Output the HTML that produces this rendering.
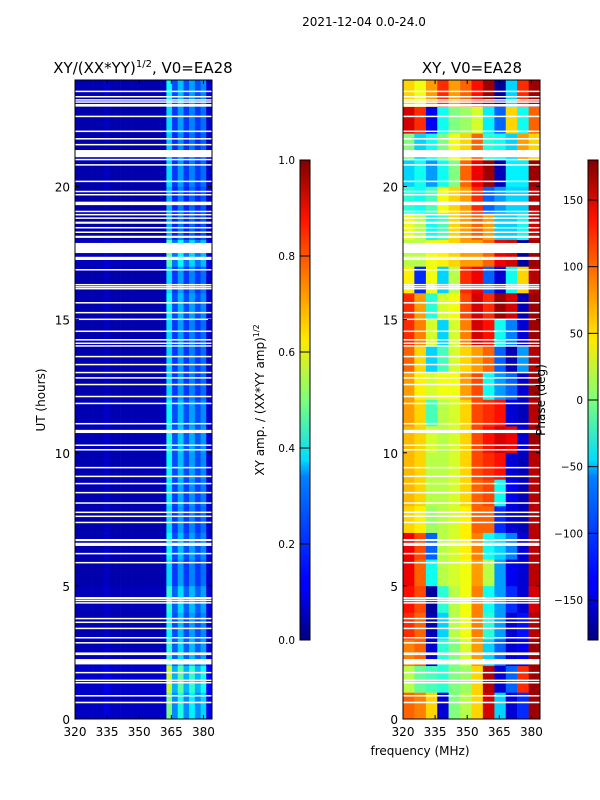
<!DOCTYPE html>
<html><head><meta charset="utf-8">
<style>
html,body{margin:0;padding:0;background:#fff;}
svg{display:block;font-family:"DejaVu Sans","Liberation Sans",sans-serif;}
</style></head>
<body>
<svg id="fig" width="600" height="800" viewBox="0 0 600 800" xmlns="http://www.w3.org/2000/svg">
<defs>
<linearGradient id="jet" x1="0" y1="1" x2="0" y2="0">
<stop offset="0" stop-color="#00007f"/><stop offset="0.11" stop-color="#0000ff"/>
<stop offset="0.125" stop-color="#0000ff"/><stop offset="0.34" stop-color="#0080ff"/>
<stop offset="0.375" stop-color="#00dcfe"/><stop offset="0.5" stop-color="#7dff7a"/>
<stop offset="0.625" stop-color="#ffea00"/><stop offset="0.75" stop-color="#ff8000"/>
<stop offset="0.875" stop-color="#ff1300"/><stop offset="1" stop-color="#7f0000"/>
</linearGradient>
</defs>
<text x="364" y="26" font-size="12" text-anchor="middle">2021-12-04 0.0-24.0</text>
<text x="143" y="73" font-size="15" text-anchor="middle">XY/(XX*YY)<tspan font-size="10" dy="-6">1/2</tspan><tspan dy="6">, V0=EA28</tspan></text>
<text x="472" y="73" font-size="15" text-anchor="middle">XY, V0=EA28</text>
<g id="leftPlot"></g>
<g id="rightPlot"></g>
<g id="axes"></g>
<text transform="translate(45,400) rotate(-90)" font-size="12" text-anchor="middle">UT (hours)</text>
<text x="420" y="755" font-size="12" text-anchor="middle">frequency (MHz)</text>
<text transform="translate(264,400) rotate(-90)" font-size="12" text-anchor="middle">XY amp. / (XX*YY amp)<tspan font-size="8" dy="-5">1/2</tspan></text>
<text transform="translate(545,400) rotate(-90)" font-size="12" text-anchor="middle">Phase (deg)</text>
<rect x="300" y="160" width="10" height="480" fill="url(#jet)" stroke="#000" stroke-width="1"/>
<rect x="588" y="160" width="10" height="480" fill="url(#jet)" stroke="#000" stroke-width="1"/>
<g id="cbticks"></g>
</svg>
<script>
// ---- data ----
const freqEdges = [320,322.7,325.3,328,330.7,333.3,336,338.7,341.3,344,346.7,349.3,352,354.7,357.3,360,362.7,365.3,368,370.7,373.3,376,378.7,381.3,384];
const ampChannel = [0.05,0.05,0.05,0.05,0.05,0.07,0.05,0.05,0.05,0.05,0.05,0.05,0.05,0.05,0.05,0.06,0.38,0.2,0.31,0.2,0.28,0.2,0.26,0.08];
const ampHourScale = [1.3,1.5,1.1,1.0,1.1,0.9,1.0,0.9,0.95,1.0,1.05,1.0,0.9,0.9,0.9,1.0,0.9,1.2,0.8,0.8,0.9,0.85,0.9,1.0];
const phaseFreqEdges = [320,325.3,330.7,336,341.3,346.7,352,357.3,362.7,368,373.3,378.7,384];
const phaseHours = [
[100,90,60,-150,0,20,60,150,-60,-150,-120,170],
[20,-10,-20,-30,0,10,60,160,-150,-100,120,170],
[90,100,-150,-30,0,30,80,-60,-100,-150,-140,170],
[120,100,-160,-60,20,40,90,-30,-80,-150,-130,160],
[130,110,-170,-30,20,40,90,-40,-80,-120,-150,150],
[140,100,-40,20,30,40,80,20,-80,-140,-150,160],
[140,110,-100,20,30,50,90,-40,-60,-90,-150,160],
[60,50,10,20,30,50,100,100,-120,-150,-160,160],
[70,60,20,20,30,60,100,110,-40,-140,-160,160],
[70,60,20,20,30,60,110,120,130,-150,-160,160],
[70,60,30,20,30,60,110,130,150,140,-150,170],
[80,60,-20,20,30,60,110,120,130,-150,-160,160],
[80,50,30,40,40,80,110,-40,-80,-100,-150,170],
[100,60,-60,-20,30,60,80,100,-100,-160,-80,160],
[120,90,30,-60,30,90,150,130,-40,-90,-150,170],
[120,80,-30,30,40,110,150,120,170,150,-160,170],
[50,-120,40,-60,20,120,140,-100,-150,-40,60,160],
[20,20,40,50,60,80,80,100,140,150,-170,170],
[40,20,-40,-20,60,80,100,80,-60,-60,-40,150],
[-30,-40,-20,40,60,80,120,-100,-80,-60,-60,160],
[-60,-40,-80,-40,0,100,140,170,-160,-50,-50,170],
[0,-60,-40,0,40,60,100,-30,-40,-60,80,60],
[150,120,-140,-40,0,10,30,-50,-100,60,-40,100],
[60,40,80,120,80,100,130,170,-170,-60,120,170]];
const flagged = [[0.59,0.65],[0.86,0.9],[1.35,1.39],[1.44,1.48],[1.73,1.77],[2.05,2.25],[2.4,2.5],[2.85,2.89],[3.04,3.08],[3.39,3.43],[3.62,3.66],[3.75,3.8],[4.35,4.39],[4.44,4.48],[4.5,4.58],[5.86,5.9],[6.2,6.24],[6.5,6.62],[6.68,6.76],[7.37,7.41],[7.6,7.64],[7.75,7.79],[8.1,8.14],[8.49,8.53],[8.83,8.87],[9.1,9.14],[9.43,9.47],[10.1,10.14],[10.27,10.31],[10.74,10.86],[11.08,11.12],[11.83,11.88],[12.1,12.14],[12.55,12.59],[12.8,12.84],[13.0,13.04],[13.3,13.34],[13.6,13.64],[14.0,14.04],[14.1,14.14],[14.23,14.27],[14.55,14.59],[15.0,15.04],[15.25,15.29],[15.62,15.66],[16.15,16.19],[16.22,16.26],[16.3,16.34],[16.86,16.9],[17.24,17.36],[17.5,17.88],[18.07,18.15],[18.27,18.31],[18.44,18.48],[18.6,18.68],[18.8,18.84],[18.93,18.97],[19.05,19.09],[19.3,19.43],[19.68,19.72],[19.8,19.84],[20.18,20.22],[20.8,20.84],[21.0,21.04],[21.1,21.37],[21.56,21.6],[21.78,21.82],[22.06,22.1],[22.62,22.66],[23.0,23.1],[23.17,23.2],[23.25,23.28],[23.37,23.4],[23.56,23.6]];
const xTicks = [320,335,350,365,380];
const yTicks = [0,5,10,15,20];
const ampTicks = [0.0,0.2,0.4,0.6,0.8,1.0];
const phaseTicks = [-150,-100,-50,0,50,100,150];

// ---- scales ----
const NS="http://www.w3.org/2000/svg";
const yTop=80, yBot=719;
const yS = h => yBot - (h/24)*(yBot-yTop);
const xL = f => 75 + (f-320)*(212-75)/64;
const xR = f => 403 + (f-320)*(540-403)/64;
function jet(v){v=Math.max(0,Math.min(1,v));
 const r=Math.max(0,Math.min(1,Math.min(4*v-1.5,-4*v+4.5)));
 const g=Math.max(0,Math.min(1,Math.min(4*v-0.5,-4*v+3.5)));
 const b=Math.max(0,Math.min(1,Math.min(4*v+0.5,-4*v+2.5)));
 return `rgb(${Math.round(r*255)},${Math.round(g*255)},${Math.round(b*255)})`;}
function mk(tag,attrs,parent){const e=document.createElementNS(NS,tag);for(const k in attrs)e.setAttribute(k,attrs[k]);parent.appendChild(e);return e;}

const lp=document.getElementById('leftPlot'), rp=document.getElementById('rightPlot');
for(let h=0;h<24;h++){
 for(let c=0;c<ampChannel.length;c++){
  const r=mk('rect',{x:xL(freqEdges[c]),y:yS(h+1),width:xL(freqEdges[c+1])-xL(freqEdges[c])+0.3,height:yS(h)-yS(h+1)+0.3,fill:jet(ampChannel[c]*ampHourScale[h])},lp);
  
  
 }
 for(let c=0;c<phaseHours[h].length;c++){
  const r=mk('rect',{x:xR(phaseFreqEdges[c]),y:yS(h+1),width:xR(phaseFreqEdges[c+1])-xR(phaseFreqEdges[c])+0.3,height:yS(h)-yS(h+1)+0.3,fill:jet((phaseHours[h][c]+180)/360)},rp);
  
  
 }
}
for(const [a,b] of flagged){
 for(const [x0,x1,g] of [[75,212,lp],[403,540,rp]]){
  const r=mk('rect',{x:x0,y:yS(b),width:x1-x0,height:Math.max(1.5,yS(a)-yS(b)),fill:'#fff'},g);
  
  
 }
}
const ax=document.getElementById('axes');
for(const [x0,x1,xs,nm] of [[75,212,xL,'left'],[403,540,xR,'right']]){
 const f=mk('rect',{x:x0,y:yTop,width:x1-x0,height:yBot-yTop,fill:'none',stroke:'#000','stroke-width':1},ax);
 
 
 for(const t of xTicks){
  const x=xs(t);
  mk('line',{x1:x,x2:x,y1:yBot,y2:yBot-4,stroke:'#000'},ax);
  mk('line',{x1:x,x2:x,y1:yTop,y2:yTop+4,stroke:'#000'},ax);
  const tx=mk('text',{x:x,y:yBot+17,'font-size':12,'text-anchor':'middle'},ax);
  tx.textContent=t;
  
  
 }
 for(const t of yTicks){
  const y=yS(t);
  mk('line',{x1:x0,x2:x0+4,y1:y,y2:y,stroke:'#000'},ax);
  mk('line',{x1:x1,x2:x1-4,y1:y,y2:y,stroke:'#000'},ax);
  const tx=mk('text',{x:x0-5,y:y+5,'font-size':12,'text-anchor':'end'},ax);
  tx.textContent=t;
  
  
 }
}
const cb=document.getElementById('cbticks');
for(const t of ampTicks){
 const y=640-t*480;
 mk('line',{x1:300,x2:310,y1:y,y2:y,stroke:'#000'},cb);
 const tx=mk('text',{x:295,y:y+4,'font-size':10.5,'text-anchor':'end'},cb);
 tx.textContent=t.toFixed(1);
 
 
}
for(const t of phaseTicks){
 const y=640-(t+180)/360*480;
 mk('line',{x1:588,x2:598,y1:y,y2:y,stroke:'#000'},cb);
 const tx=mk('text',{x:583,y:y+4,'font-size':10.5,'text-anchor':'end'},cb);
 tx.textContent=t<0?'\u2212'+Math.abs(t):String(t);
 
 
}
</script>
</body></html>
